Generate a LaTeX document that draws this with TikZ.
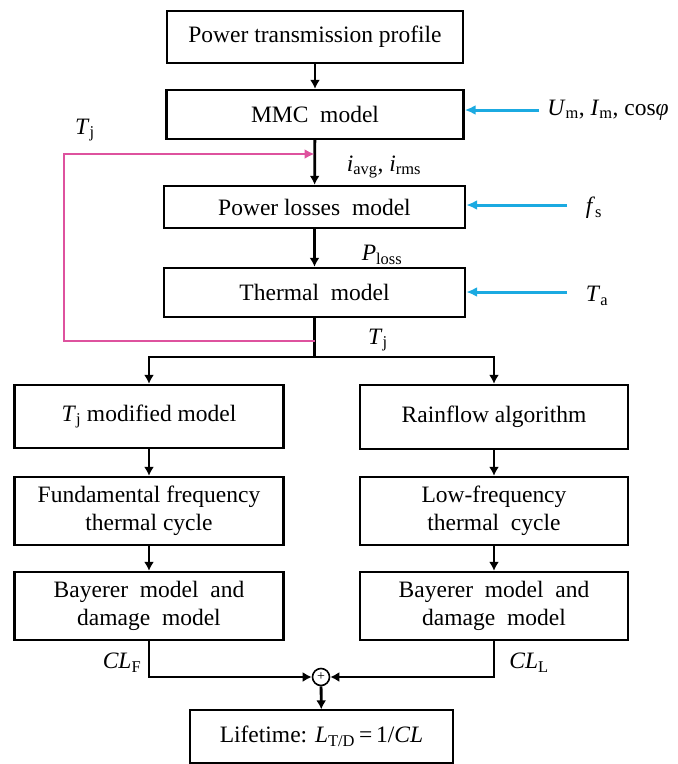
\documentclass[tikz,border=0pt]{standalone}
\usepackage{fontspec}
\setmainfont{Liberation Serif}
\usetikzlibrary{arrows.meta}
\definecolor{fbpink}{RGB}{222,82,158}
\definecolor{inblue}{RGB}{27,170,225}
\newcommand{\tjsym}{\textit{T}\textsubscript{j}}
\begin{document}
\begin{tikzpicture}[x=1pt, y=-1pt, every node/.style={font=\fontsize{23.5}{28}\selectfont},
	block/.style={draw, line width=2.4pt, align=center, inner sep=0pt},
	arr/.style={line width=2.8pt, -{Latex[length=9pt,width=10pt]}},
	fb/.style={line width=2.5pt, fbpink, -{Latex[length=10pt,width=10pt]}},
	inp/.style={line width=3pt, inblue, -{Latex[length=11pt,width=10pt]}}]
	\useasboundingbox (0,0) rectangle (678,764);
	% main chain
	\node[block, minimum width=296pt, minimum height=52pt] (prof) at (315,37) {Power transmission profile};
	\node[block, minimum width=297pt, minimum height=49pt] (mmc) at (315,114.5) {MMC~~model};
	\node[block, minimum width=301pt, minimum height=42pt] (loss) at (314.5,207) {Power losses~~model};
	\node[block, minimum width=301pt, minimum height=49pt] (therm) at (314.5,292.5) {Thermal~~model};
	% two branches
	\node[block, minimum width=269pt, minimum height=63pt] (tjmod) at (149,416.5) {\tjsym\ modified model};
	\node[block, minimum width=268pt, minimum height=64pt] (rain) at (494,417) {Rainflow algorithm};
	\node[block, minimum width=269pt, minimum height=68pt] (fund) at (149,511) {Fundamental frequency\\thermal cycle};
	\node[block, minimum width=268pt, minimum height=68pt] (low) at (494,511) {Low-frequency\\thermal~~cycle};
	\node[block, minimum width=269pt, minimum height=68pt] (bayl) at (149,606) {Bayerer~~model~~and\\damage~~model};
	\node[block, minimum width=268pt, minimum height=68pt] (bayr) at (494,606) {Bayerer~~model~~and\\damage~~model};
	\node[draw, circle, line width=1.6pt, minimum size=17pt, inner sep=0pt, font=\fontsize{14}{14}\selectfont] (sum) at (321,677) {+};
	\node[draw, line width=1.3pt, minimum width=263pt, minimum height=53pt, inner sep=0pt] (life) at (321.5,736.5) {Lifetime: \textit{L}\textsubscript{T/D}\,=\,1/\textit{CL}};
	% labels
	\node (tjtop) at (85,130) {\tjsym};
	\node (icur) at (384,167) {\textit{i}\textsubscript{avg}, \textit{i}\textsubscript{rms}};
	\node (ploss) at (382,255) {\textit{P}\textsubscript{loss}};
	\node (tjbot) at (378,340) {\tjsym};
	\node (umi) at (608,110) {\textit{U}\textsubscript{m}, \textit{I}\textsubscript{m}, cos\textit{φ}};
	\node (fsw) at (594,208) {\textit{f}\textsubscript{s}};
	\node (tamb) at (597,296) {\textit{T}\textsubscript{a}};
	\node (clf) at (122,663) {\textit{CL}\textsubscript{F}};
	\node (cll) at (529,663) {\textit{CL}\textsubscript{L}};
	\coordinate (split) at (314.5,357);
	\coordinate (tap) at (314.5,341);
	% connectors
	\draw[arr] (prof) -- (mmc);
	\draw[arr] (mmc) -- (loss);
	\draw[arr] (loss) -- (therm);
	\draw[line width=2.8pt] (therm.south) -- (split);
	\draw[arr] (split) -| (tjmod.north);
	\draw[arr] (split) -| (rain.north);
	\draw[arr] (tjmod) -- (fund);
	\draw[arr] (rain) -- (low);
	\draw[arr] (fund) -- (bayl);
	\draw[arr] (low) -- (bayr);
	\draw[arr] (bayl.south) |- (sum.west);
	\draw[arr] (bayr.south) |- (sum.east);
	\draw[arr] (sum) -- (life);
	\draw[fb] (tap) -- (64,341) -- (64,154) -- (314.5,154);
	\draw[inp] (539,110) -- (mmc.east |- 0,110);
	\draw[inp] (567,205) -- (loss.east |- 0,205);
	\draw[inp] (567,292) -- (therm.east |- 0,292);
\end{tikzpicture}
\end{document}
